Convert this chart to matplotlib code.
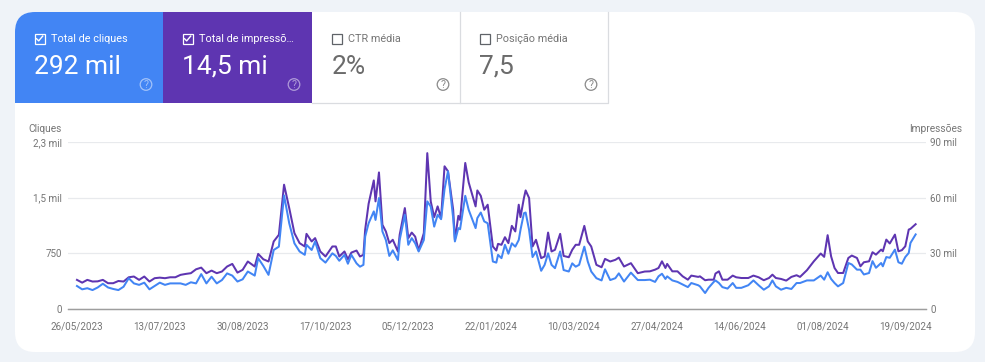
import matplotlib
matplotlib.use("Agg")
import matplotlib.pyplot as plt
from matplotlib.patches import Circle, FancyBboxPatch, Rectangle

plt.rcParams["font.family"] = ["Roboto", "DejaVu Sans"]

# days since 26/05/2023, clicks per day, impressions per day (thousands)
days = [0, 3, 6, 9, 12, 15, 18, 21, 24, 27, 30, 33, 36, 39, 42, 45, 48, 51, 54, 57,
        60, 63, 66, 69, 72, 75, 78, 81, 84, 87, 90, 93, 96, 99, 103, 105, 108, 111, 114, 117,
        120, 123, 126, 129, 132, 133, 136, 138, 141, 144, 148, 150, 152, 155, 157, 159, 162, 164, 166, 167,
        169, 172, 173, 175, 177, 179, 181, 183, 186, 187, 190, 192, 194, 196, 198, 201, 203, 205, 207, 209,
        211, 213, 215, 218, 219, 221, 222, 225, 227, 231, 232, 234, 236, 238, 241, 243, 244, 246, 248, 250,
        252, 254, 256, 257, 259, 260, 262, 264, 266, 269, 271, 273, 275, 277, 280, 282, 285, 287, 289, 291,
        294, 296, 298, 301, 304, 306, 309, 312, 314, 317, 321, 325, 329, 332, 335, 337, 339, 341, 342, 345,
        348, 351, 354, 356, 360, 361, 364, 366, 369, 370, 372, 374, 377, 380, 382, 385, 389, 392, 395, 398,
        401, 403, 405, 408, 411, 414, 417, 419, 423, 427, 431, 433, 435, 437, 439, 441, 444, 447, 449, 452,
        454, 456, 459, 461, 463, 466, 467, 469, 471, 474, 476, 478, 480, 482, 483, 486]
clicks = [310, 265, 280, 255, 290, 340, 290, 270, 255, 300, 415, 345, 325, 355, 265, 310, 355, 325, 345, 345,
          345, 325, 360, 345, 470, 345, 435, 345, 390, 480, 450, 370, 400, 505, 450, 685, 580, 460, 795, 840,
          1530, 1155, 885, 775, 730, 865, 795, 910, 685, 625, 750, 715, 650, 730, 610, 730, 615, 570, 595, 975,
          1155, 1315, 1200, 1495, 1045, 930, 715, 790, 660, 930, 1270, 865, 955, 885, 775, 930, 1450, 1380, 1110, 1270,
          1210, 1615, 1855, 1225, 910, 1090, 1075, 1525, 1335, 1090, 1225, 1300, 1180, 1155, 640, 625, 730, 685, 865, 745,
          885, 840, 930, 1065, 1290, 1300, 1065, 700, 775, 515, 595, 750, 595, 550, 775, 525, 505, 615, 570, 595,
          840, 640, 505, 415, 385, 535, 390, 415, 480, 370, 490, 390, 390, 395, 365, 440, 475, 405, 440, 385,
          365, 330, 295, 350, 320, 305, 215, 285, 365, 385, 350, 295, 275, 350, 285, 285, 320, 385, 320, 260,
          305, 385, 305, 260, 285, 270, 350, 350, 385, 385, 450, 395, 495, 405, 350, 305, 350, 620, 600, 530,
          530, 465, 485, 645, 555, 620, 575, 700, 690, 800, 630, 610, 700, 755, 890, 1005]
impressions = [15.7, 14.2, 15.7, 14.8, 14.9, 15.7, 13.9, 13.9, 15.1, 14.8, 17.1, 17.5, 15.7, 17.5, 14.8, 16.6, 16.9, 16.6, 17.1, 17.1,
               18.4, 18.9, 19.3, 21.4, 22.3, 19.3, 20.7, 19.3, 20.2, 22.9, 24.3, 19.6, 21.1, 25.6, 22.9, 29.7, 26.8, 25.6, 36.4, 40.0,
               67.0, 54.4, 40.9, 35.5, 33.7, 40.5, 36.4, 38.2, 31.0, 28.3, 33.7, 33.7, 28.3, 31.0, 26.8, 30.4, 31.5, 28.3, 29.2, 42.7,
               56.7, 69.3, 58.0, 73.6, 45.4, 41.8, 35.5, 37.3, 31.0, 40.0, 54.4, 38.2, 41.2, 39.0, 31.5, 40.9, 84.0, 58.0, 49.5, 55.3,
               49.0, 76.9, 74.2, 53.5, 37.3, 50.2, 48.0, 78.7, 68.2, 55.3, 63.9, 61.0, 53.5, 56.2, 33.7, 31.5, 35.1, 34.6, 38.7, 35.5,
               44.8, 41.8, 56.2, 49.5, 59.8, 63.9, 59.8, 33.7, 37.3, 27.4, 28.3, 41.2, 31.0, 31.9, 40.5, 28.6, 27.9, 31.9, 34.6, 34.6,
               44.8, 36.4, 33.7, 23.8, 22.5, 27.0, 25.6, 26.5, 27.7, 22.9, 24.7, 19.3, 20.2, 20.3, 21.2, 22.1, 25.7, 22.1, 24.3, 20.3,
               20.3, 17.6, 15.8, 18.0, 17.3, 17.6, 15.5, 15.8, 15.8, 19.1, 20.3, 15.8, 15.8, 18.0, 17.1, 16.7, 16.7, 18.0, 17.1, 15.5,
               16.7, 18.5, 16.7, 16.2, 15.3, 17.3, 18.2, 17.3, 20.9, 25.7, 29.9, 28.1, 39.8, 28.4, 22.1, 19.4, 19.4, 27.5, 28.8, 27.5,
               23.0, 25.2, 25.7, 30.6, 29.3, 32.0, 31.1, 37.4, 35.3, 40.1, 31.1, 31.7, 33.8, 42.8, 43.2, 45.7]

date_ticks = [0, 48, 96, 144, 192, 240, 288, 336, 384, 432, 480]
date_labels = ["26/05/2023", "13/07/2023", "30/08/2023", "17/10/2023", "05/12/2023", "22/01/2024",
               "10/03/2024", "27/04/2024", "14/06/2024", "01/08/2024", "19/09/2024"]
clicks_ticks = [0, 750, 1500, 2250]
clicks_labels = ["0", "750", "1,5 mil", "2,3 mil"]
imp_ticks = [0, 30, 60, 90]
imp_labels = ["0", "30 mil", "60 mil", "90 mil"]

card_titles = ["Total de cliques", "Total de impressõ…", "CTR média", "Posição média"]
card_values = ["292 mil", "14,5 mi", "2%", "7,5"]

W, H = 985, 362
BLUE = "#4285F4"
PURPLE = "#5E35B1"
GREY = "#757575"
LINE = "#DADCE0"

fig = plt.figure(figsize=(W / 100, H / 100), dpi=100, facecolor="#EFF3F8")

# page layer in pixel coordinates, for the cards
bg = fig.add_axes([0, 0, 1, 1])
bg.set_xlim(0, W)
bg.set_ylim(H, 0)
bg.axis("off")

panel = FancyBboxPatch((15, 12), 960, 340, boxstyle="round,pad=0,rounding_size=20", fc="white", ec="none")
bg.add_patch(panel)

card_x = [15, 163, 312, 460]
card_w = [148, 149, 148, 148]
card_bg = [BLUE, PURPLE, "white", "white"]
for i in range(4):
    r = Rectangle((card_x[i], 12), card_w[i], 91, fc=card_bg[i], ec="none")
    bg.add_patch(r)
    r.set_clip_path(panel)
    selected = i < 2
    fg = "white" if selected else "#5F6368"

    x0 = card_x[i] + 19.5
    bg.add_patch(Rectangle((x0, 33.5), 10, 10, fc="none", ec=fg, lw=0.9))
    if selected:
        bg.plot([x0 + 2, x0 + 4.2, x0 + 8.2], [38.7, 40.9, 36.1], color="white", lw=1.0)
    bg.text(x0 + 16.5, 38.5, card_titles[i], color="white" if selected else GREY, fontsize=7.8, va="center", ha="left")
    bg.text(x0, 66.5, card_values[i], color="white" if selected else "#6B6B6B", fontsize=19, va="center", ha="left")

    hx = card_x[i] + 131
    help_col = "#FFFFFF" if selected else "#8A8A8A"
    alpha = 0.5 if selected else 1
    bg.add_patch(Circle((hx, 84.5), 5.8, fc="none", ec=help_col, lw=0.9, alpha=alpha))
    bg.text(hx, 84.8, "?", color=help_col, alpha=alpha, fontsize=7.5, ha="center", va="center")

bg.plot([312, 608, 608], [102.5, 102.5, 12], color=LINE, lw=0.9)
bg.plot([459.5, 459.5], [12, 102.5], color=LINE, lw=0.9)

bg.text(28, 129, "Cliques", color=GREY, fontsize=7.3, ha="left", va="center")
bg.text(962, 129, "Impressões", color=GREY, fontsize=7.3, ha="right", va="center")

# chart
ax = fig.add_axes([68 / W, 1 - 309 / H, (926 - 68) / W, (309 - 142) / H])
ax_imp = ax.twinx()
ax.set_zorder(2)
ax.patch.set_visible(False)

ax_imp.plot(days, impressions, color=PURPLE, lw=1.45, solid_joinstyle="round")
ax.plot(days, clicks, color=BLUE, lw=1.45, solid_joinstyle="round")

ax.set_xlim(-5.2, 492)
ax.set_ylim(0, 2250)
ax_imp.set_ylim(0, 90)

ax.set_xticks(date_ticks, date_labels)
ax.set_yticks(clicks_ticks, clicks_labels)
ax_imp.set_yticks(imp_ticks, imp_labels)
ax.tick_params(axis="x", length=0, pad=9, labelsize=7.1, labelcolor=GREY)
ax.tick_params(axis="y", length=0, pad=4.3, labelsize=7.1, labelcolor=GREY)
ax_imp.tick_params(axis="y", length=0, pad=2.9, labelsize=7.1, labelcolor=GREY)

ax_imp.grid(axis="y", color="#E8EAED", lw=0.9)
ax_imp.set_axisbelow(True)
for a in (ax, ax_imp):
    for side in ("top", "left", "right"):
        a.spines[side].set_visible(False)
    a.spines["bottom"].set_color("#9E9E9E")
    a.spines["bottom"].set_linewidth(0.9)

fig.savefig("out.png", dpi=100, facecolor=fig.get_facecolor())
